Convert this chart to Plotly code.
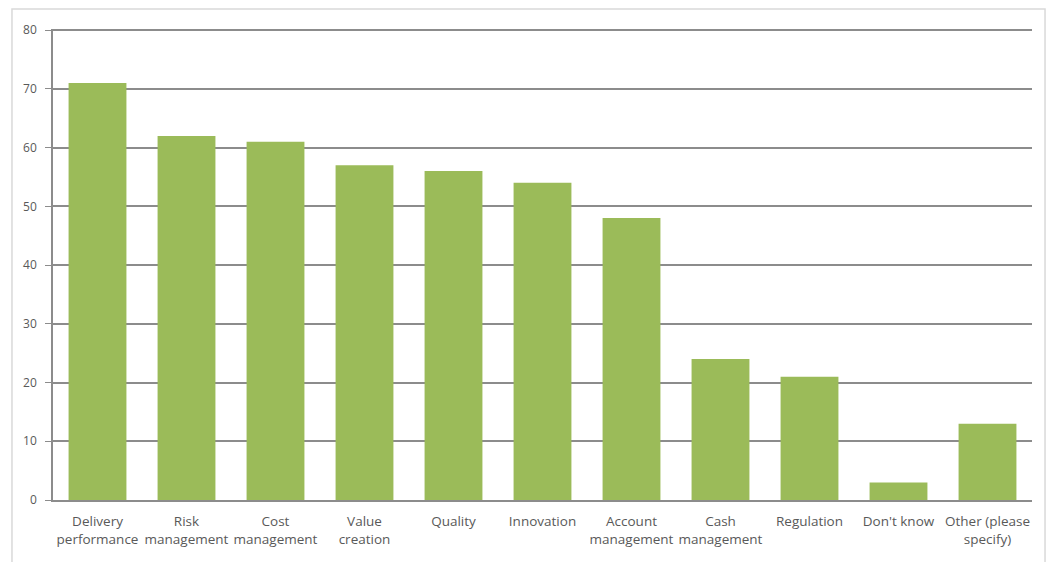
import plotly.graph_objects as go

categories = ["Delivery<br>performance", "Risk<br>management", "Cost<br>management", "Value<br>creation",
              "Quality", "Innovation", "Account<br>management", "Cash<br>management", "Regulation",
              "Don't know", "Other (please<br>specify)"]
values = [71, 62, 61, 57, 56, 54, 48, 24, 21, 3, 13]
y_ticks = [0, 10, 20, 30, 40, 50, 60, 70, 80]

fig = go.Figure(go.Bar(x=categories, y=values, marker=dict(color="#9BBB59", line=dict(width=0))))

fig.update_layout(
    width=1047, height=562,
    margin=dict(l=53, r=15, t=29, b=62),
    plot_bgcolor="white", paper_bgcolor="white",
    bargap=0.35,
    showlegend=False,
    font=dict(family="Open Sans, Arial, sans-serif", size=11, color="#595959"),
    xaxis=dict(showgrid=False, showline=True, linecolor="#8c8c8c", linewidth=2,
               tickfont=dict(size=13.5, color="#595959"), ticks="", ticklabelstandoff=8),
    yaxis=dict(range=[0, 80.2], tickvals=y_ticks, showgrid=True, gridcolor="#8c8c8c", gridwidth=2,
               showline=True, linecolor="#8c8c8c", linewidth=1.5, ticks="outside", ticklen=6,
               tickcolor="#8c8c8c", tickfont=dict(size=12, color="#595959"), zeroline=False,
               ticklabelstandoff=6),
    shapes=[dict(type="rect", xref="paper", yref="paper", x0=-0.0419, x1=1.0133, y0=-0.14, y1=1.0426,
                 line=dict(color="#d9d9d9", width=1.5), layer="below")],
)

fig.write_html("out.html")
